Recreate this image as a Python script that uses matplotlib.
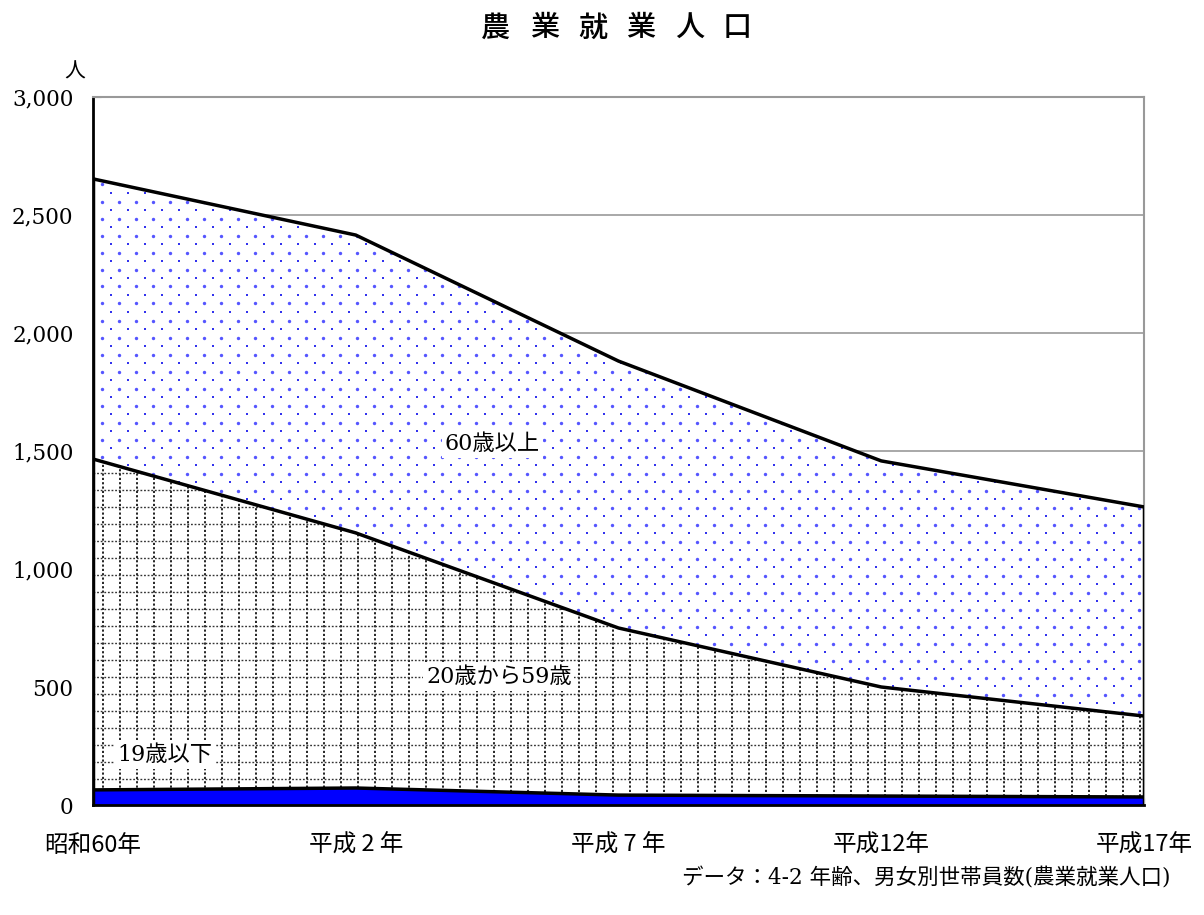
import numpy as np
import matplotlib

matplotlib.use("Agg")
import matplotlib.pyplot as plt  # noqa: E402

# data (persons; stacked from the bottom)
years = ["昭和60年", "平成 2 年", "平成 7 年", "平成12年", "平成17年"]
under19 = [64, 72, 42, 38, 34]
age20_59 = [1402, 1081, 708, 462, 343]
over60 = [1187, 1262, 1131, 958, 886]
yticks = [0, 500, 1000, 1500, 2000, 2500, 3000]
title = "農業就業人口"

JP = ["Noto Sans CJK JP", "DejaVu Sans"]
NUM = ["DejaVu Serif", "Noto Sans CJK JP"]
W, H = 1204, 915

fig = plt.figure(figsize=(W / 100, H / 100), dpi=100)
L, R, T, B = 93, 1144, 97, 805
ax = fig.add_axes([L / W, 1 - B / H, (R - L) / W, (B - T) / H])

x = np.arange(len(years))
y1 = np.array(under19)
y2 = y1 + np.array(age20_59)
y3 = y2 + np.array(over60)

ax.set_xlim(0, len(years) - 1)
ax.set_ylim(0, 3000)
ax.set_yticks(yticks)
ax.set_yticklabels([f"{v:,}" for v in yticks], fontsize=15.5, family=NUM)
ax.set_xticks(x)
ax.set_xticklabels(years, fontsize=17, family=JP)
ax.tick_params(axis="y", direction="in", length=6, color="#888888", pad=14)
ax.tick_params(axis="x", direction="in", length=5, pad=21)
ax.yaxis.grid(True, color="#999999", linewidth=1.2)
ax.set_axisbelow(True)
for side in ("top", "right"):
    ax.spines[side].set_color("#999999")
    ax.spines[side].set_linewidth(1.5)
for side in ("left", "bottom"):
    ax.spines[side].set_color("black")
    ax.spines[side].set_linewidth(2)

# pattern spacing in data units (~17 px)
px_x = (len(years) - 1) / (R - L)
px_y = 3000 / (B - T)
sx, sy = 17 * px_x, 17 * px_y

# 60歳以上: white with blue dot pattern
top = ax.fill_between(x, y2, y3, facecolor="white", edgecolor="none", zorder=2)
clip = (top.get_paths()[0], ax.transData)
gx = np.arange(sx * 0.55, x[-1], sx)
gy = np.arange(0, 3000, sy)
X1, Y1 = np.meshgrid(gx, gy + sy * 0.5)
X2, Y2 = np.meshgrid(gx + sx * 0.5, gy)
d1 = ax.scatter(X1.ravel(), Y1.ravel(), s=6, color="#5555ff", linewidths=0, zorder=3)
d2 = ax.scatter(X2.ravel(), Y2.ravel(), s=3, marker="s", color="#3333ee", linewidths=0, zorder=3)
d1.set_clip_path(*clip)
d2.set_clip_path(*clip)

# 20歳から59歳: white with dotted grid
mid = ax.fill_between(x, y1, y2, facecolor="white", edgecolor="none", zorder=2)
clip2 = (mid.get_paths()[0], ax.transData)
for xv in np.arange(sx * 0.6, x[-1], sx):
    ln = ax.axvline(xv, color="black", linewidth=1.2, linestyle=(0, (1.3, 1.3)), zorder=3)
    ln.set_clip_path(*clip2)
for yv in np.arange(sy * 0.55, 3000, sy):
    ln = ax.axhline(yv, color="#333333", linewidth=1, linestyle=(0, (1.3, 1.3)), zorder=3)
    ln.set_clip_path(*clip2)

# 19歳以下: solid blue
ax.fill_between(x, 0, y1, facecolor="#0000ff", edgecolor="none", zorder=2)

# boundary lines
for yy in (y1, y2, y3):
    ax.plot(x, yy, color="black", linewidth=2.5, zorder=4, solid_joinstyle="miter")
ax.plot([x[-1], x[-1]], [0, y3[-1]], color="black", linewidth=2.5, zorder=4)
ax.plot([x[0], x[0]], [0, y3[0]], color="black", linewidth=2.5, zorder=4)

box = dict(facecolor="white", edgecolor="none", pad=2)
ax.text(1.52, 1530, "60歳以上", fontsize=16, family=NUM, ha="center", va="center", bbox=box, zorder=5)
ax.text(1.545, 542, "20歳から59歳", fontsize=16, family=NUM, ha="center", va="center", bbox=box, zorder=5)
ax.text(0.274, 212, "19歳以下", fontsize=16, family=NUM, ha="center", va="center", bbox=box, zorder=5)

# widely spaced title, one glyph at a time
for i, ch in enumerate(title):
    fig.text((496 + i * 48.3) / W, 1 - 28 / H, ch, fontsize=21, fontweight="medium",
             family=JP, ha="center", va="center")
fig.text(75 / W, 1 - 72 / H, "人", fontsize=15, family=JP, ha="center", va="center")
fig.text(1170 / W, 1 - 878 / H, "データ：4-2 年齢、男女別世帯員数(農業就業人口)",
         fontsize=15.5, family=NUM, ha="right", va="center")

fig.savefig("out.png", dpi=100, facecolor="white")
